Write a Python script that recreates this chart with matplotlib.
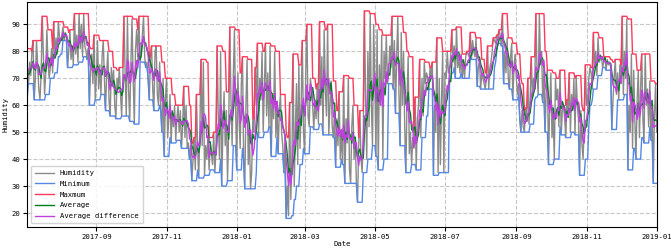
import pandas as pd
import matplotlib.pyplot as plt
import matplotlib.dates as mdates

# daily humidity readings, 2017-06-29 .. 2019-01-01
humidity = [
    63, 72, 70, 81,
    74, 68, 76, 71, 80, 84, 62, 70, 84, 75,
    66, 62, 71, 93, 79, 64, 72, 88, 76, 70,
    74, 81, 72, 91, 78, 85, 79, 91, 85, 84,
    86, 89, 84, 87, 85, 74, 80, 88, 77, 82,
    75, 94, 79, 86, 76, 94, 81, 90, 78, 94,
    82, 80, 77, 81, 60, 73, 79, 68, 86, 62,
    70, 84, 66, 75, 64, 78, 84, 70, 58, 72,
    80, 62, 56, 74, 68, 73, 60, 55, 70, 66,
    74, 64, 56, 70, 93, 72, 56, 93, 66, 54,
    75, 92, 70, 53, 80, 88, 78, 93, 76, 80,
    86, 93, 78, 74, 76, 70, 62, 78, 82, 66,
    58, 80, 82, 64, 60, 76, 58, 50, 70, 41,
    62, 70, 48, 55, 64, 46, 58, 52, 60, 47,
    55, 60, 50, 58, 44, 52, 67, 48, 60, 44,
    46, 40, 45, 32, 40, 48, 36, 64, 44, 33,
    52, 77, 45, 76, 34, 45, 40, 48, 36, 46,
    42, 38, 50, 35, 44, 82, 55, 40, 80, 30,
    52, 65, 45, 58, 32, 50, 89, 62, 45, 70,
    88, 60, 36, 72, 55, 44, 68, 78, 40, 29,
    60, 77, 38, 50, 29, 35, 55, 50, 74, 60,
    83, 48, 70, 62, 80, 50, 66, 83, 56, 72,
    52, 82, 41, 64, 55, 80, 48, 60, 42, 58,
    64, 50, 45, 35, 48, 18, 30, 19, 61, 25,
    40, 79, 30, 52, 68, 38, 75, 44, 60, 84,
    50, 42, 72, 90, 56, 52, 70, 66, 60, 51,
    62, 55, 68, 53, 91, 60, 78, 49, 88, 66,
    56, 90, 49, 60, 69, 52, 48, 58, 37, 55,
    45, 65, 40, 50, 38, 71, 31, 55, 46, 70,
    36, 31, 52, 60, 40, 48, 31, 24, 45, 58,
    40, 35, 50, 95, 62, 40, 80, 52, 94, 60,
    45, 90, 70, 41, 88, 36, 75, 60, 86, 40,
    80, 70, 86, 68, 72, 82, 74, 93, 66, 84,
    57, 78, 93, 64, 45, 87, 60, 80, 52, 35,
    62, 78, 42, 50, 38, 48, 44, 63, 36, 55,
    60, 77, 48, 70, 56, 76, 68, 72, 70, 66,
    74, 70, 76, 34, 60, 50, 85, 35, 70, 38,
    62, 80, 35, 72, 70, 80, 72, 74, 78, 88,
    76, 82, 70, 89, 74, 78, 72, 79, 70, 76,
    70, 78, 80, 79, 78, 87, 77, 84, 80, 78,
    85, 67, 74, 77, 66, 72, 70, 68, 66, 70,
    82, 66, 74, 76, 80, 85, 84, 83, 86, 84,
    88, 86, 82, 94, 68, 80, 72, 85, 70, 66,
    78, 83, 62, 75, 79, 70, 64, 68, 55, 50,
    58, 52, 50, 59, 54, 70, 53, 62, 78, 63,
    70, 66, 94, 72, 64, 94, 75, 80, 61, 73,
    50, 66, 73, 38, 60, 72, 48, 56, 40, 70,
    62, 66, 52, 73, 49, 58, 60, 55, 48, 62,
    56, 72, 50, 64, 58, 70, 49, 71, 60, 55,
    34, 58, 46, 40, 52, 75, 60, 62, 70, 74,
    72, 66, 87, 74, 80, 71, 85, 76, 77, 78,
    74, 76, 78, 73, 77, 75, 76, 74, 51, 62,
    70, 77, 64, 72, 62, 75, 68, 93, 64, 80,
    70, 92, 36, 60, 50, 79, 44, 73, 55, 40,
    62, 73, 48, 66, 79, 55, 46, 79, 60, 66,
    52, 69, 47, 60, 31, 55, 68, 50,
]
start_date = '2017-06-29'
window = 5

y_ticks = [20, 30, 40, 50, 60, 70, 80, 90]

df = pd.DataFrame({'Humidity': humidity},
                  index=pd.date_range(start_date, periods=len(humidity), freq='D'))
roll = df['Humidity'].rolling(window, min_periods=1)
df['Minimum'] = roll.min()
df['Maxmum'] = roll.max()
df['Average'] = df['Humidity'].rolling(7, min_periods=1).mean()
df['Average difference'] = df['Humidity'].rolling(5, min_periods=1).mean()

plt.rcParams['font.family'] = ['DejaVu Sans Mono']
plt.rcParams['font.size'] = 5.2

fig = plt.figure(figsize=(6.71, 2.52), dpi=100)
ax = fig.add_axes([0.0407, 0.099, 0.938, 0.893])

ax.plot(df.index, df['Humidity'], color='#8a8a8a', lw=1.0, label='Humidity')
ax.plot(df.index, df['Minimum'], color='#5588e6', lw=1.0, label='Minimum')
ax.plot(df.index, df['Maxmum'], color='#ff3a5c', lw=1.0, label='Maxmum')
ax.plot(df.index, df['Average'], color='#007f1f', lw=1.0, label='Average')
ax.plot(df.index, df['Average difference'], color='#c23fe0', lw=1.0, label='Average difference')

ax.set_xlim(pd.Timestamp('2017-07-03'), pd.Timestamp('2019-01-01'))
ax.set_ylim(14.8, 98.3)
ax.set_yticks(y_ticks)
ax.xaxis.set_major_locator(mdates.MonthLocator(bymonth=[1, 3, 5, 7, 9, 11]))
ax.xaxis.set_major_formatter(mdates.DateFormatter('%Y-%m'))
ax.grid(True, linestyle='--', color='#c8c8c8', lw=0.8)
ax.tick_params(length=3, width=0.8, pad=2)
ax.set_xlabel('Date', labelpad=1)
ax.set_ylabel('Humidity', labelpad=2)
ax.legend(loc='lower left', handlelength=2.6, labelspacing=0.65,
          borderpad=0.6, framealpha=0.85, edgecolor='#cccccc')

plt.savefig('out.png', dpi=100)
